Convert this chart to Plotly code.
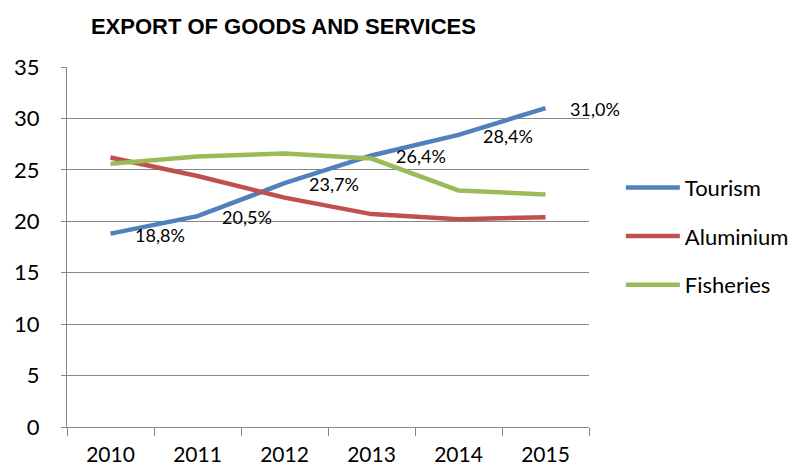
import plotly.graph_objects as go

years = ["2010", "2011", "2012", "2013", "2014", "2015"]
tourism = [18.8, 20.5, 23.7, 26.4, 28.4, 31.0]
aluminium = [26.2, 24.4, 22.3, 20.7, 20.2, 20.4]
fisheries = [25.6, 26.3, 26.6, 26.1, 23.0, 22.6]
tourism_labels = ["18,8%", "20,5%", "23,7%", "26,4%", "28,4%", "31,0%"]

BODY_FONT = "Lato, Open Sans, sans-serif"
TITLE_FONT = "Liberation Sans Narrow, Arial Narrow, Liberation Sans, sans-serif"

fig = go.Figure()
series = [("Tourism", tourism, "#4F81BD"),
          ("Aluminium", aluminium, "#C0504D"),
          ("Fisheries", fisheries, "#9BBB59")]
for name, vals, col in series:
    fig.add_trace(go.Scatter(x=years, y=vals, mode="lines", name=name,
                             legendgroup=name,
                             line=dict(color=col, width=4.5)))

for i, (yv, t) in enumerate(zip(tourism, tourism_labels)):
    fig.add_annotation(x=i, y=yv, text=t, showarrow=False, xanchor="left",
                       yanchor="middle", xshift=22, yshift=-1,
                       font=dict(family=BODY_FONT, size=18, color="#000000"))

fig.update_layout(
    width=797, height=461,
    margin=dict(l=59, r=216, t=59, b=42, autoexpand=False),
    paper_bgcolor="white", plot_bgcolor="white",
    title=dict(text="<b>EXPORT OF GOODS AND SERVICES</b>",
               font=dict(family=TITLE_FONT, size=22, color="#000000"),
               x=0.104, xanchor="left", y=0.96, yanchor="middle"),
    legend=dict(x=1.061, y=0.53, xanchor="left", yanchor="middle",
                font=dict(family=BODY_FONT, size=22, color="#000000"),
                tracegroupgap=17, itemwidth=54, bgcolor="rgba(0,0,0,0)"),
    showlegend=True,
)
fig.update_xaxes(type="category", range=[-0.5, len(years) - 0.5],
                 tickson="boundaries", ticks="outside",
                 ticklen=8, tickcolor="#868686", showline=True,
                 linecolor="#868686", linewidth=1, showgrid=False,
                 tickangle=0, ticklabelstandoff=9,
                 tickfont=dict(family=BODY_FONT, size=21, color="#000000"))
fig.update_yaxes(range=[0, 35], dtick=5, ticks="outside", ticklen=5,
                 tickcolor="#868686", showline=True, linecolor="#868686",
                 linewidth=1, showgrid=True, gridcolor="#868686", gridwidth=1,
                 zeroline=False, ticklabelstandoff=17,
                 tickfont=dict(family=BODY_FONT, size=22, color="#000000"))

fig.write_html("out.html")
